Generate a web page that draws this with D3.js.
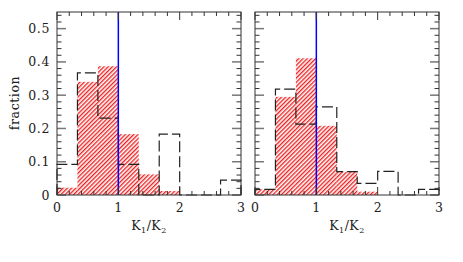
<!DOCTYPE html>
<html>
<head>
<meta charset="utf-8">
<script src="https://cdn.jsdelivr.net/npm/d3@7"></script>
<style>
body { margin: 0; background: #fff; }
text { font-family: "DejaVu Serif", "Liberation Serif", serif; fill: #222; }
</style>
</head>
<body>
<div id="chart"></div>
<script>
"use strict";

// bin edges in K1/K2
var binEdges = [0, 0.3333, 0.6667, 1, 1.3333, 1.6667, 2, 2.3333, 2.6667, 3];
// left panel
var leftHatched = [0.022, 0.34, 0.387, 0.183, 0.062, 0.012, 0, 0, 0];
var leftDashed  = [0.092, 0.367, 0.231, 0.092, 0, 0.183, 0, 0, 0.045];
// right panel
var rightHatched = [0.017, 0.295, 0.411, 0.208, 0.07, 0.01, 0, 0, 0];
var rightDashed  = [0.017, 0.318, 0.213, 0.265, 0.07, 0.035, 0.071, 0, 0.017];

var xTicks = [0, 1, 2, 3];
var yTicks = [0, 0.1, 0.2, 0.3, 0.4, 0.5];
var yLabels = ["0", "0.1", "0.2", "0.3", "0.4", "0.5"];

var W = 463, H = 262;
var yTop = 12, yBottom = 195;
var panelW = 184;

var svg = d3.select("#chart").append("svg")
    .attr("width", W)
    .attr("height", H);

// red hatch
svg.append("defs").append("pattern")
    .attr("id", "hatch")
    .attr("patternUnits", "userSpaceOnUse")
    .attr("width", 3)
    .attr("height", 3)
    .attr("patternTransform", "rotate(45)")
        .append("line")
            .attr("x1", 0.7).attr("y1", 0)
            .attr("x2", 0.7).attr("y2", 3)
            .attr("stroke", "#ee1515")
            .attr("stroke-width", 1.3);

var y = d3.scaleLinear().domain([0, 0.55]).range([yBottom, yTop]);

function drawPanel(left, hatched, dashed, showY){
    var x = d3.scaleLinear().domain([0, 3]).range([left, left + panelW]);
    var g = svg.append("g");

    // hatched histogram
    g.selectAll("rect.bar").data(hatched).enter()
        .append("rect")
            .attr("class", "bar")
            .attr("x", function(d, i){ return x(binEdges[i]); })
            .attr("width", function(d, i){ return x(binEdges[i + 1]) - x(binEdges[i]); })
            .attr("y", function(d){ return y(d); })
            .attr("height", function(d){ return y(0) - y(d); })
            .attr("fill", "url(#hatch)");

    // dashed step outline
    var pts = [[0, 0]];
    dashed.forEach(function(v, i){
        pts.push([binEdges[i], v]);
        pts.push([binEdges[i + 1], v]);
    });
    pts.push([3, 0]);
    g.append("path")
        .attr("d", d3.line().x(function(d){ return x(d[0]); }).y(function(d){ return y(d[1]); })(pts))
        .attr("fill", "none")
        .attr("stroke", "#222")
        .attr("stroke-width", 1.2)
        .attr("stroke-dasharray", "11,4");

    // K1/K2 = 1 line
    g.append("line")
        .attr("x1", x(1)).attr("x2", x(1))
        .attr("y1", yTop).attr("y2", yBottom)
        .attr("stroke", "#0000ff")
        .attr("stroke-width", 1.5);

    // ticks, inside on all sides
    var xMinor = d3.range(0, 3.001, 0.2);
    var yMinor = d3.range(0, 0.551, 0.02);
    var tk = g.append("g").attr("stroke", "#333").attr("stroke-width", 1);
    xMinor.forEach(function(v){
        var major = Math.abs(v - Math.round(v)) < 1e-6;
        var len = major ? 8 : 4;
        tk.append("line").attr("x1", x(v)).attr("x2", x(v)).attr("y1", yBottom).attr("y2", yBottom - len);
        tk.append("line").attr("x1", x(v)).attr("x2", x(v)).attr("y1", yTop).attr("y2", yTop + len);
    });
    yMinor.forEach(function(v){
        var major = Math.abs(v * 10 - Math.round(v * 10)) < 1e-6;
        var len = major ? 9 : 4.5;
        var sw = major ? 1.5 : 1;
        var c = major ? "#777" : "#333";
        tk.append("line").attr("x1", left).attr("x2", left + len).attr("y1", y(v)).attr("y2", y(v)).attr("stroke", c).attr("stroke-width", sw);
        tk.append("line").attr("x1", left + panelW).attr("x2", left + panelW - len).attr("y1", y(v)).attr("y2", y(v)).attr("stroke", c).attr("stroke-width", sw);
    });

    // frame
    g.append("rect")
        .attr("x", left).attr("y", yTop)
        .attr("width", panelW).attr("height", yBottom - yTop)
        .attr("fill", "none")
        .attr("stroke", "#333")
        .attr("stroke-width", 1);

    // x labels
    g.selectAll("text.xl").data(xTicks).enter()
        .append("text")
            .attr("x", function(d){ return x(d); })
            .attr("y", 212)
            .attr("text-anchor", "middle")
            .attr("font-size", 12.5)
            .text(function(d){ return d; });

    var xt = g.append("text")
        .attr("x", left + panelW / 2)
        .attr("y", 230)
        .attr("text-anchor", "middle")
        .attr("font-size", 12.5)
        .attr("letter-spacing", 0.5);
    xt.append("tspan").text("K");
    xt.append("tspan").attr("dy", 3).attr("font-size", 8).text("1");
    xt.append("tspan").attr("dy", -3).text("/K");
    xt.append("tspan").attr("dy", 3).attr("font-size", 8).text("2");

    if (showY){
        g.selectAll("text.yl").data(yTicks).enter()
            .append("text")
                .attr("x", 50)
                .attr("y", function(d){ return y(d) + 4.5; })
                .attr("text-anchor", "end")
                .attr("font-size", 12.5)
                .attr("letter-spacing", 0.6)
                .text(function(d, i){ return yLabels[i]; });
        g.append("text")
            .attr("transform", "translate(19," + 103 + ") rotate(-90)")
            .attr("text-anchor", "middle")
            .attr("font-size", 12.5)
            .attr("letter-spacing", 0.6)
            .text("fraction");
    }
}

drawPanel(57, leftHatched, leftDashed, true);
drawPanel(255, rightHatched, rightDashed, false);
</script>
</body>
</html>
